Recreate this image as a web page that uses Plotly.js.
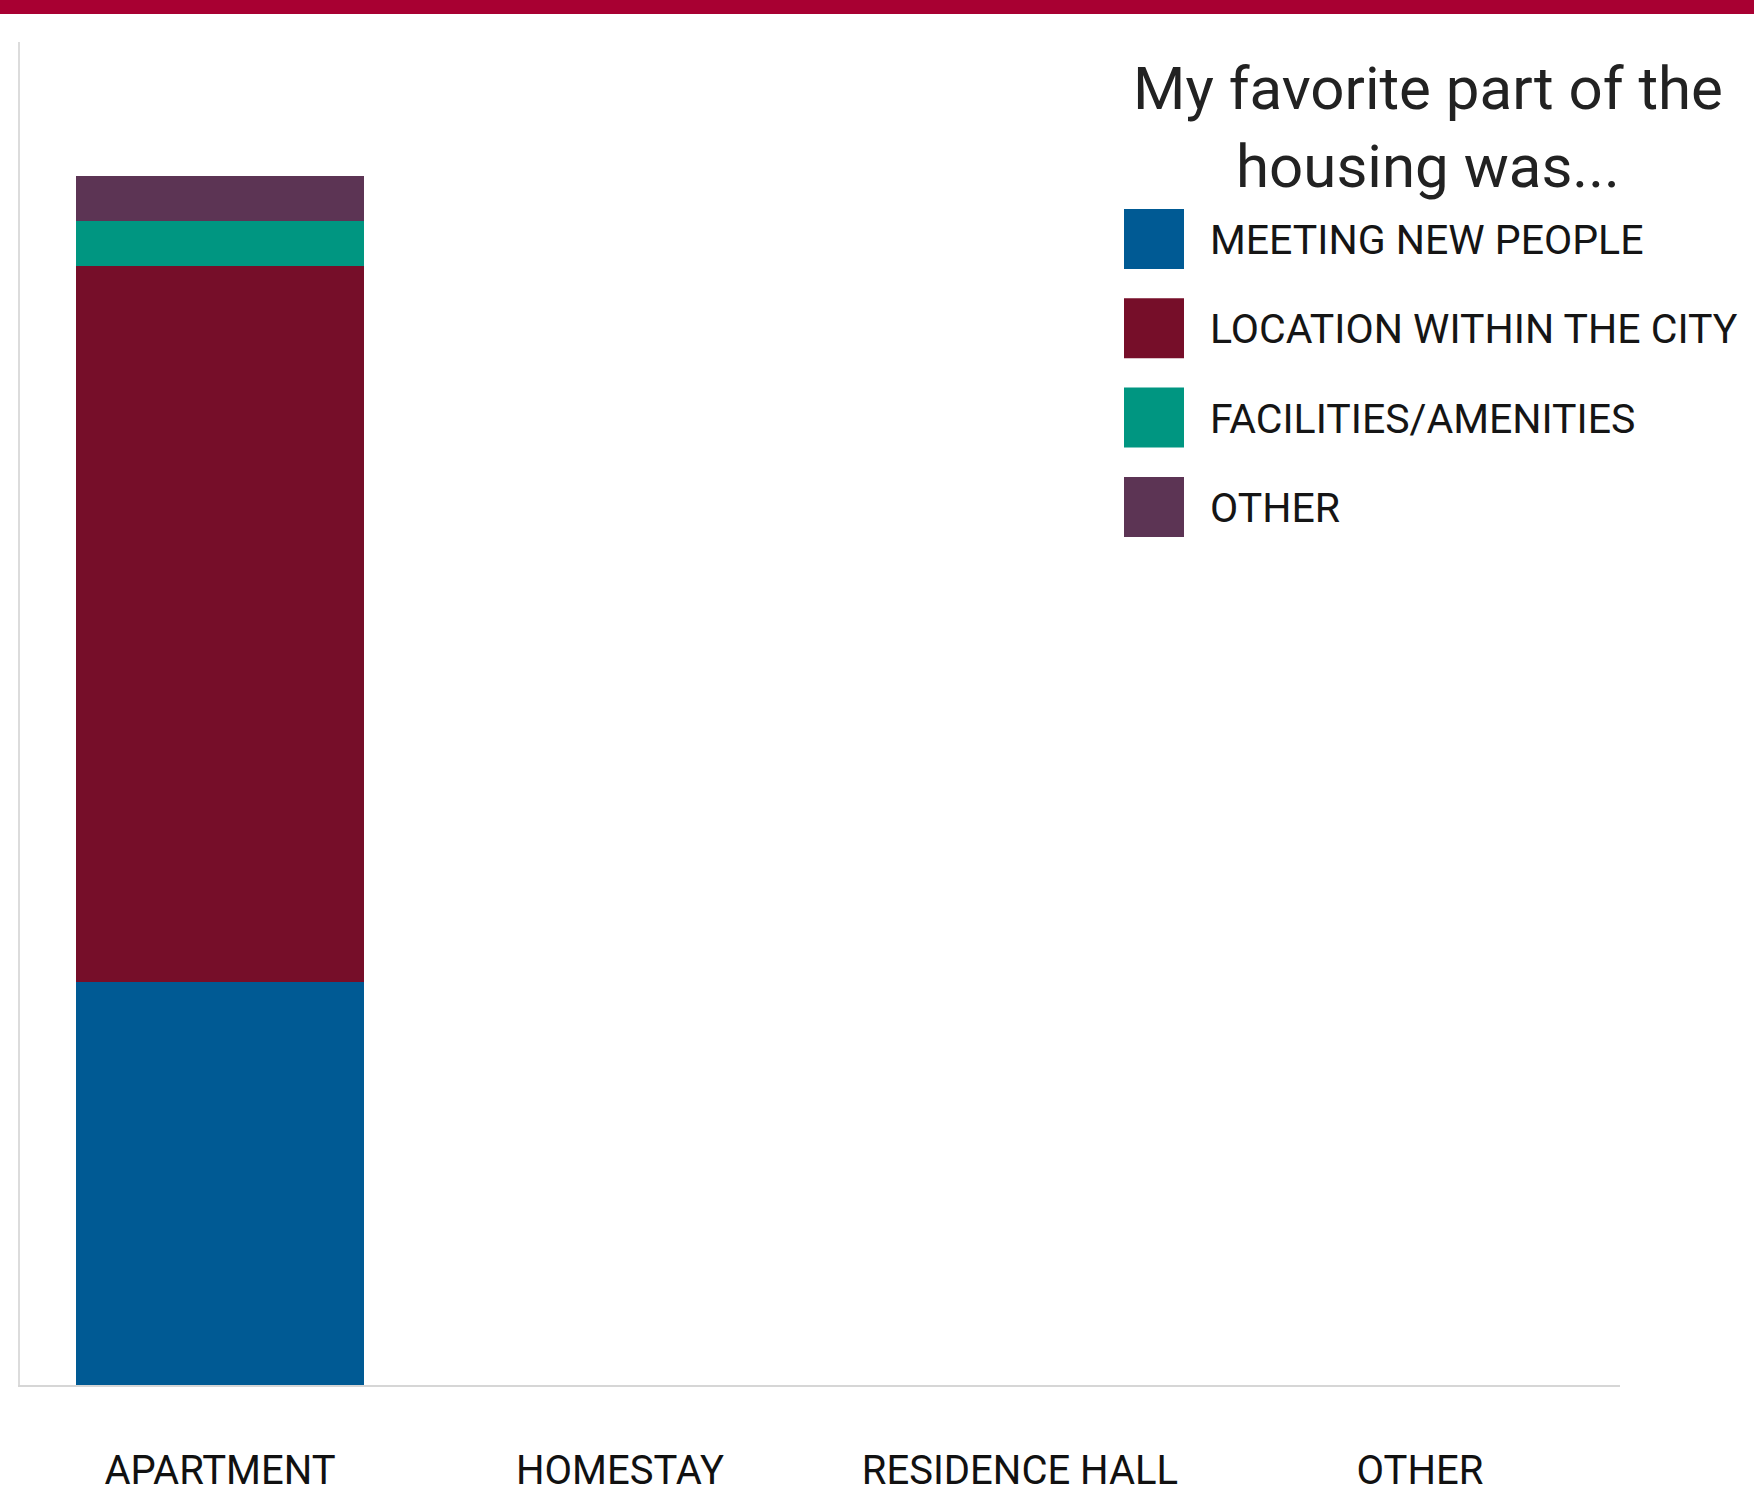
<!DOCTYPE html>
<html>
<head>
<meta charset="utf-8">
<script src="https://cdn.plot.ly/plotly-3.0.1.min.js"></script>
<style>
  html, body { margin: 0; padding: 0; background: #ffffff; }
  #chart { width: 1754px; height: 1499px; }
</style>
</head>
<body>
<div id="chart"></div>
<script>
// ---- Data ----
const categories = ['APARTMENT', 'HOMESTAY', 'RESIDENCE HALL', 'OTHER'];
const seriesNames = ['MEETING NEW PEOPLE', 'LOCATION WITHIN THE CITY', 'FACILITIES/AMENITIES', 'OTHER'];
const seriesColors = ['#005a94', '#760e29', '#009681', '#5c3454'];
const meetingNewPeople = [9, 0, 0, 0];
const locationWithinCity = [16, 0, 0, 0];
const facilitiesAmenities = [1, 0, 0, 0];
const otherReason = [1, 0, 0, 0];
const legendTitle = 'My favorite part of the<br>housing was...';

const seriesValues = [meetingNewPeople, locationWithinCity, facilitiesAmenities, otherReason];

// ---- Layout geometry (pixels) ----
const W = 1754, H = 1499;
const M = { l: 20, r: 134, t: 42, b: 114 };
const plotW = W - M.l - M.r;
const plotH = H - M.t - M.b;
const px2x = (px) => (px - M.l) / plotW;
const px2y = (py) => (H - M.b - py) / plotH;

const FONT = 'Roboto, "Liberation Sans", Arial, sans-serif';

const traces = seriesNames.map((name, i) => ({
  type: 'bar',
  name: name,
  x: categories,
  y: seriesValues[i],
  marker: { color: seriesColors[i], line: { width: 0 } },
  hoverinfo: 'skip'
}));

// Manual legend (large square swatches)
const shapes = [];
const annotations = [];

// Top header band
shapes.push({
  type: 'rect', xref: 'paper', yref: 'paper', layer: 'above',
  x0: px2x(-5), x1: px2x(W + 5), y0: px2y(14), y1: px2y(-5),
  fillcolor: '#a80032', line: { width: 0 }
});

const swX0 = 1124, swSize = 60, swTop0 = 209, swStep = 89.3;
seriesNames.forEach((name, i) => {
  const top = swTop0 + i * swStep;
  shapes.push({
    type: 'rect', xref: 'paper', yref: 'paper', layer: 'above',
    x0: px2x(swX0), x1: px2x(swX0 + swSize),
    y0: px2y(top + swSize), y1: px2y(top),
    fillcolor: seriesColors[i], line: { width: 0 }
  });
  annotations.push({
    xref: 'paper', yref: 'paper',
    x: px2x(1208), y: px2y(top + swSize / 2 + 1),
    xanchor: 'left', yanchor: 'middle',
    text: name, showarrow: false,
    font: { family: FONT, size: 41, color: '#151515' }
  });
});

annotations.push({
  xref: 'paper', yref: 'paper',
  x: px2x(1428), y: px2y(127),
  xanchor: 'center', yanchor: 'middle', align: 'center',
  text: legendTitle, showarrow: false,
  font: { family: FONT, size: 60, color: '#222222' }
});

const layout = {
  width: W, height: H,
  margin: M,
  paper_bgcolor: '#ffffff',
  plot_bgcolor: '#ffffff',
  barmode: 'stack',
  bargap: 0.28,
  showlegend: false,
  font: { family: FONT, color: '#151515' },
  xaxis: {
    type: 'category',
    showline: true, linecolor: '#d6d6d6', linewidth: 2,
    showgrid: false, zeroline: false,
    ticks: '', ticklabelstandoff: 49,
    tickfont: { family: FONT, size: 40, color: '#111111' },
    fixedrange: true
  },
  yaxis: {
    range: [0, 30],
    showline: true, linecolor: '#dcdcdc', linewidth: 2,
    showgrid: false, zeroline: false,
    showticklabels: false, ticks: '',
    fixedrange: true
  },
  shapes: shapes,
  annotations: annotations
};

Plotly.newPlot('chart', traces, layout, { staticPlot: true, displayModeBar: false });
</script>
</body>
</html>
